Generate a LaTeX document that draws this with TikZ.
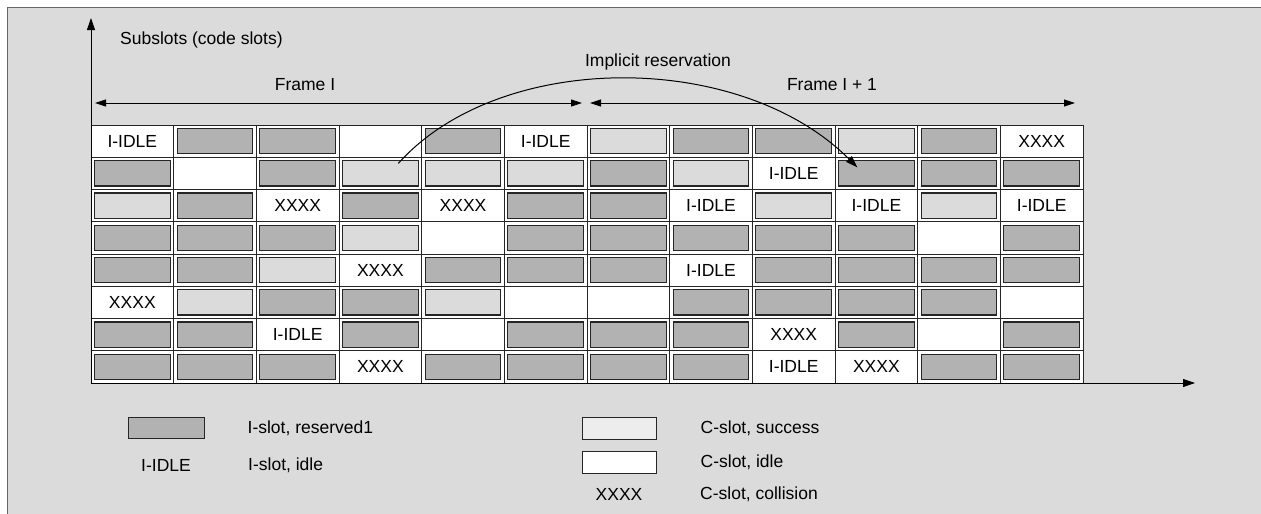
\documentclass[tikz,border=0pt]{standalone}
\usepackage{fontspec}
\setmainfont{Liberation Sans}
\usepackage{tikz}
\usetikzlibrary{positioning,arrows.meta}

\newcommand{\slotfont}{\fontsize{17.5}{20}\selectfont}
\newcommand{\legfont}{\fontsize{17.5}{20}\selectfont}

\begin{document}
\begin{tikzpicture}[
    x=1pt, y=-1pt,
    cell/.style={rectangle, draw=black!85, line width=0.9pt, fill=white, minimum width=82.67pt, minimum height=32.25pt, inner sep=0pt, font=\slotfont},
    inbox/.style={path picture={\draw[line width=1.2pt, fill=#1] ([shift={(3.5pt,-3.5pt)}]path picture bounding box.north west) rectangle ([shift={(-3.5pt,3.5pt)}]path picture bounding box.south east);}},
    slot-R/.style={cell, inbox=black!30, node contents={}},
    slot-S/.style={cell, inbox=black!14, node contents={}},
    slot-E/.style={cell, node contents={}},
    slot-I/.style={cell, node contents={I-IDLE}},
    slot-X/.style={cell, node contents={XXXX}},
    legbox/.style={rectangle, draw=black!85, line width=0.9pt, fill=#1, minimum width=76pt, minimum height=21pt, inner sep=0pt},
    legtext/.style={font=\legfont, inner sep=0pt, anchor=west},
    axis/.style={-{Triangle[length=12pt, width=8pt]}, line width=0.9pt},
    span/.style={{Triangle[length=11pt, width=7pt]}-{Triangle[length=11pt, width=7pt]}, line width=0.8pt},
]
\useasboundingbox (0,0) rectangle (1261,514);
\fill[black!14] (7,7) rectangle (1261,514);
\draw[black!60, line width=0.8pt] (7,514) -- (7,7) -- (1261,7);

% slot grid, one list per subslot
\foreach \slots [count=\r] in {
    {I,R,R,E,R,I,S,R,R,S,R,X},
    {R,E,R,S,S,S,R,S,I,R,R,R},
    {S,R,X,R,X,R,R,I,S,I,S,I},
    {R,R,R,S,E,R,R,R,R,R,E,R},
    {R,R,S,X,R,R,R,I,R,R,R,R},
    {X,S,R,R,S,E,E,R,R,R,R,E},
    {R,R,I,R,E,R,R,R,X,R,E,R},
    {R,R,R,X,R,R,R,R,I,X,R,R}} {
  \foreach \t [count=\c] in \slots {
    \node (c-\r-\c) at ({91+(\c-0.5)*82.67},{125+(\r-0.5)*32.25}) [slot-\t];
  }
}

% axes
\coordinate (origin) at (91,383);
\coordinate (ytop) at (91,18);
\coordinate (xend) at (1195,383);
\draw[axis] (origin) -- (ytop);
\draw[axis] (origin) -- (xend);
\node[legtext] (ylabel) at (120,40) {Subslots (code slots)};

% frames
\coordinate (fa-l) at (95,103);
\coordinate (fa-r) at (582,103);
\coordinate (fb-l) at (590,103);
\coordinate (fb-r) at (1075,103);
\draw[span] (fa-l) -- (fa-r);
\draw[span] (fb-l) -- (fb-r);
\node[font=\legfont] (frameA) at (305,85) {Frame I};
\node[font=\legfont] (frameB) at (832,85) {Frame I + 1};

% implicit reservation
\node[font=\legfont] (resv) at (658,62) {Implicit reservation};
\draw[axis, line width=1pt] ([shift={(18pt,10pt)}]c-2-4.center) .. controls (500,50) and (740,50) .. ([shift={(-19pt,6pt)}]c-2-10.center);

% legend
\node[legbox=black!30] (legR) at (166,428) {};
\node[legtext, right=43pt of legR] (legRtxt) {I-slot, reserved1};
\node[font=\legfont] (legI) at (166,465) {I-IDLE};
\node[legtext] (legItxt) at (248,465) {I-slot, idle};
\node[legbox=black!7, minimum width=74pt, minimum height=22pt] (legS) at (619,428) {};
\node[legtext, right=44pt of legS] (legStxt) {C-slot, success};
\node[legbox=white, minimum width=74pt, minimum height=22pt] (legE) at (619,462) {};
\node[legtext, right=44pt of legE] (legEtxt) {C-slot, idle};
\node[font=\legfont] (legX) at (619,494) {XXXX};
\node[legtext] (legXtxt) at (700,494) {C-slot, collision};
\end{tikzpicture}
\end{document}
